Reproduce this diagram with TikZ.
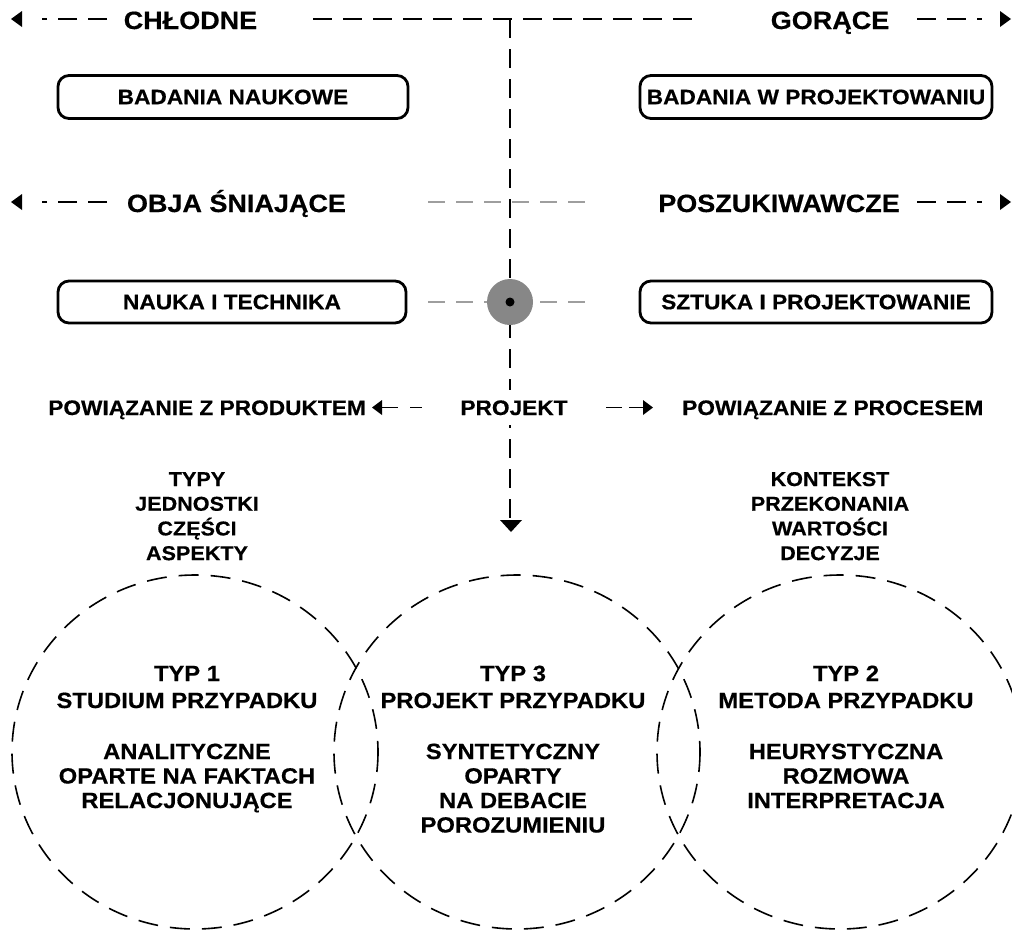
\documentclass[tikz,border=0pt]{standalone}
\usepackage{fontspec}
\newfontfamily\lab{Liberation Sans Bold}[FakeStretch=1.08, FakeBold=0.5]
\definecolor{guidegray}{gray}{0.62}
\definecolor{hubgray}{gray}{0.53}
\begin{document}
\begin{tikzpicture}[x=1pt,y=-1pt,
  head/.style={font=\lab\fontsize{25}{30}\selectfont, inner sep=0pt, anchor=base},
  lbl/.style={font=\lab\fontsize{21}{25}\selectfont, inner sep=0pt},
  small/.style={font=\lab\fontsize{20}{24}\selectfont, inner sep=0pt, anchor=base},
  circtxt/.style={font=\lab\fontsize{22}{26}\selectfont, inner sep=0pt, anchor=base},
  boxed/.style={lbl, draw, line width=2.8pt, rounded corners=11pt,
    minimum width=350pt, minimum height=43pt},
  axis/.style={line width=1.8pt, dash pattern=on 19pt off 11pt},
  guide/.style={guidegray, line width=1.4pt, dash pattern=on 17pt off 11pt},
  ring/.style={line width=1.6pt, dash pattern=on 20pt off 12pt},
  lhead/.pic={\fill (0,0) -- (11,-8) -- (11,8) -- cycle;},
  shead/.pic={\fill (0,0) -- (10,-7.5) -- (10,7.5) -- cycle;},
  bhead/.pic={\fill (0,0) -- (12,-11) -- (12,11) -- cycle;}
]
\useasboundingbox (0,0) rectangle (1012,932);
\clip (0,0) rectangle (1012,932);

% ---------- coordinates of the axes ----------
\coordinate (top) at (510,19);
\coordinate (bot) at (510,520);
\coordinate (c1l) at (42,19);   \coordinate (c1r) at (107,19);
\coordinate (c1m) at (313,19);  \coordinate (c1n) at (693,19);
\coordinate (c1s) at (917,19);  \coordinate (c1t) at (982,19);
\coordinate (c2l) at (42,202);  \coordinate (c2r) at (107,202);
\coordinate (c2s) at (917,202); \coordinate (c2t) at (982,202);
\coordinate (g2a) at (428,202); \coordinate (g2b) at (595,202);
\coordinate (g3a) at (428,302); \coordinate (g3b) at (594,302);
\coordinate (hub) at (510,302);

% ---------- gray guides ----------
\draw[guide] (g2a) -- (g2b);
\draw[guide] (g3a) -- (g3b);

% ---------- main axes ----------
\draw[axis] (c1r) -- (c1l);
\draw[axis] (c1m) -- (c1n);
\draw[axis] (c1s) -- (c1t);
\draw[axis] (c2r) -- (c2l);
\draw[axis] (c2s) -- (c2t);
\draw[axis] (top) -- (bot);
\pic at (11,19) {lhead};
\pic[rotate=180] at (1011,19) {lhead};
\pic at (11,202) {lhead};
\pic[rotate=180] at (1011,202) {lhead};
\pic[rotate=90] at (511,532) {bhead};

% ---------- headings ----------
\node[head] (cold) at (190.5,29) {CHŁODNE};
\node[head] (hot) at (830,29) {GORĄCE};
\node[head] (expl) at (236.5,212) {OBJA ŚNIAJĄCE};
\node[head] (expr) at (779,212) {POSZUKIWAWCZE};

% ---------- boxes ----------
\node[boxed] (sci) at (233,97) {BADANIA NAUKOWE};
\node[boxed, minimum width=352pt] (des) at (816,97) {BADANIA W PROJEKTOWANIU};
\node[boxed, minimum width=348pt, minimum height=42pt] (tech) at (232,302) {NAUKA I TECHNIKA};
\node[boxed, minimum width=352pt, minimum height=42pt] (art) at (816,302) {SZTUKA I PROJEKTOWANIE};

% ---------- hub ----------
\fill[hubgray] (hub) circle (23);
\fill (hub) circle (4.5);

% ---------- product / process row ----------
\node[lbl, fill=white, inner xsep=8pt, inner ysep=10pt, anchor=base] (proj) at (514,415) {PROJEKT};
\node[lbl, anchor=base east] (prod) at (366,415) {POWIĄZANIE Z PRODUKTEM};
\node[lbl, anchor=base west] (proc) at (682,415) {POWIĄZANIE Z PROCESEM};
\coordinate (pl1) at (382,407.5); \coordinate (pl2) at (422,407.5);
\coordinate (pr1) at (606,407.5); \coordinate (pr2) at (643,407.5);
\draw[line width=1.8pt, dash pattern=on 16pt off 12pt] (pl1) -- (pl2);
\draw[line width=1.8pt, dash pattern=on 16pt off 7pt] (pr1) -- (pr2);
\pic at (372,407.5) {shead};
\pic[rotate=180] at (653,407.5) {shead};

% ---------- side lists ----------
\foreach \s [count=\k] in {TYPY,JEDNOSTKI,CZĘŚCI,ASPEKTY}
  \node[small] (lst1-\k) at (197,{486+24.7*(\k-1)}) {\s};
\foreach \s [count=\k] in {KONTEKST,PRZEKONANIA,WARTOŚCI,DECYZJE}
  \node[small] (lst2-\k) at (830,{486+24.7*(\k-1)}) {\s};

% ---------- three case types ----------
\draw[ring] (195,752) ellipse [x radius=183, y radius=177];
\draw[ring] (517,752) ellipse [x radius=183, y radius=177];
\draw[ring] (840,752) ellipse [x radius=183, y radius=177];

\node[circtxt] (t1a) at (187,681) {TYP 1};
\node[circtxt] (t1b) at (187,708) {STUDIUM PRZYPADKU};
\foreach \s [count=\k] in {ANALITYCZNE,OPARTE NA FAKTACH,RELACJONUJĄCE}
  \node[circtxt] (d1-\k) at (187,{759+24.5*(\k-1)}) {\s};

\node[circtxt] (t3a) at (513,681) {TYP 3};
\node[circtxt] (t3b) at (513,708) {PROJEKT PRZYPADKU};
\foreach \s [count=\k] in {SYNTETYCZNY,OPARTY,NA DEBACIE,POROZUMIENIU}
  \node[circtxt] (d3-\k) at (513,{759+24.5*(\k-1)}) {\s};

\node[circtxt] (t2a) at (846,681) {TYP 2};
\node[circtxt] (t2b) at (846,708) {METODA PRZYPADKU};
\foreach \s [count=\k] in {HEURYSTYCZNA,ROZMOWA,INTERPRETACJA}
  \node[circtxt] (d2-\k) at (846,{759+24.5*(\k-1)}) {\s};
\end{tikzpicture}
\end{document}
